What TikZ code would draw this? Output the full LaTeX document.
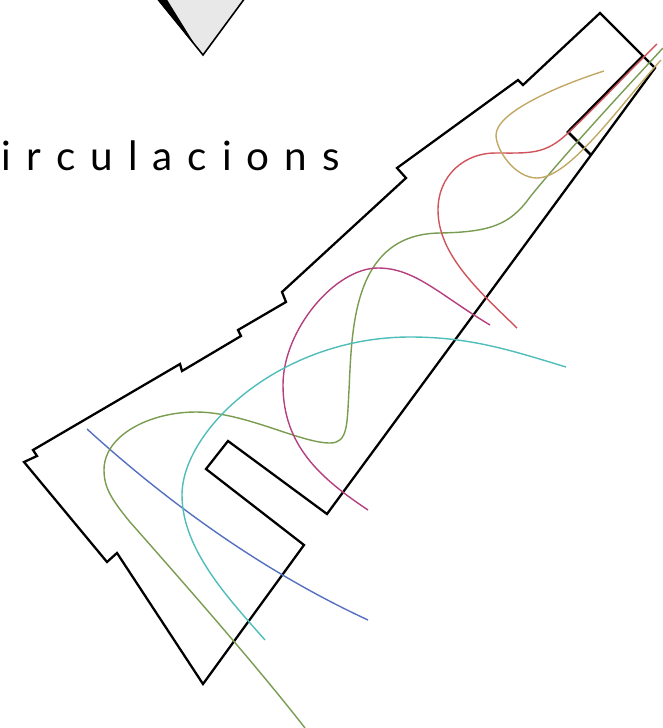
\documentclass[tikz,border=0pt]{standalone}
\usepackage{fontspec}
\usepackage{xcolor}
\usepackage{tikz}
\newfontfamily\titlefont{Lato}
\definecolor{routeblue}{HTML}{5570C0}
\definecolor{routegreen}{HTML}{7A9C50}
\definecolor{routered}{HTML}{D0545A}
\definecolor{routetan}{HTML}{C2A865}
\definecolor{routepink}{HTML}{B5407F}
\definecolor{routeteal}{HTML}{4FBDB9}
\tikzset{
    wall/.style={draw=black, line width=1.3pt, line join=miter},
    route/.style={line width=0.8pt}
}

\begin{document}
\begin{tikzpicture}[x=0.02cm, y=-0.02cm]
    \clip (0, 0) rectangle (663, 728);
    % Marker at the top
    \fill[fill=black!9] (157, -2) -- (203, 55) -- (245, -2) -- cycle;
    \fill[black] (156, -2) -- (197, 48) -- (166, -2) -- cycle;
    \draw[line width=0.9pt] (157, -2) -- (203, 55) -- (245, -2);

    % Title
    \node[anchor=base west, inner sep=0pt] (title) at (1.5, 170.5) {\titlefont\fontsize{23}{24}\selectfont\spaceskip=0.3cm i r c u l a c i o n s};

    % Plan outline
    \draw[wall] (24, 462) -- (37, 456) -- (33, 450) -- (180, 364) -- (182, 371) -- (241, 336) -- (238, 330)
        -- (286, 302) -- (282, 292) -- (406, 178) -- (397, 168) -- (518, 80) -- (523, 85) -- (600, 13)
        -- (655, 68) -- (327, 514) -- (228, 441) -- (206, 469) -- (304, 545) -- (203, 684) -- (117, 553)
        -- (107, 562) -- cycle;
    \draw[wall, line width=1.6pt] (643, 56) -- (568, 132) -- (591, 155);

    % Routes
    \draw[route, routeblue] (87, 429) .. controls (165, 500) and (260, 570) .. (368, 620);
    \draw[route, routegreen] (305, 728) .. controls (260, 670) and (190, 590) .. (130, 522)
        .. controls (112, 500) and (104, 488) .. (104, 470)
        .. controls (104, 435) and (150, 412) .. (196, 412)
        .. controls (245, 412) and (300, 443) .. (330, 443)
        .. controls (348, 443) and (347, 425) .. (349, 390)
        .. controls (352, 330) and (352, 234) .. (440, 233)
        .. controls (490, 232) and (510, 225) .. (530, 197)
        .. controls (560, 160) and (610, 105) .. (663, 48);
    \draw[route, routered] (517, 328) .. controls (480, 292) and (438, 255) .. (438, 210)
        .. controls (438, 175) and (465, 153) .. (495, 153)
        .. controls (530, 153) and (545, 155) .. (568, 133)
        .. controls (600, 103) and (630, 70) .. (657, 44);
    \draw[route, routetan] (604, 71) .. controls (560, 85) and (496, 112) .. (496, 135)
        .. controls (496, 150) and (515, 178) .. (537, 178)
        .. controls (570, 178) and (620, 105) .. (661, 60);
    \draw[route, routepink] (368, 510) .. controls (320, 478) and (283, 445) .. (283, 385)
        .. controls (283, 330) and (335, 268) .. (378, 268)
        .. controls (415, 268) and (440, 295) .. (490, 325);
    \draw[route, routeteal] (265, 640) .. controls (230, 600) and (182, 550) .. (182, 495)
        .. controls (182, 430) and (280, 337) .. (410, 337)
        .. controls (470, 337) and (510, 350) .. (566, 367);
\end{tikzpicture}
\end{document}
